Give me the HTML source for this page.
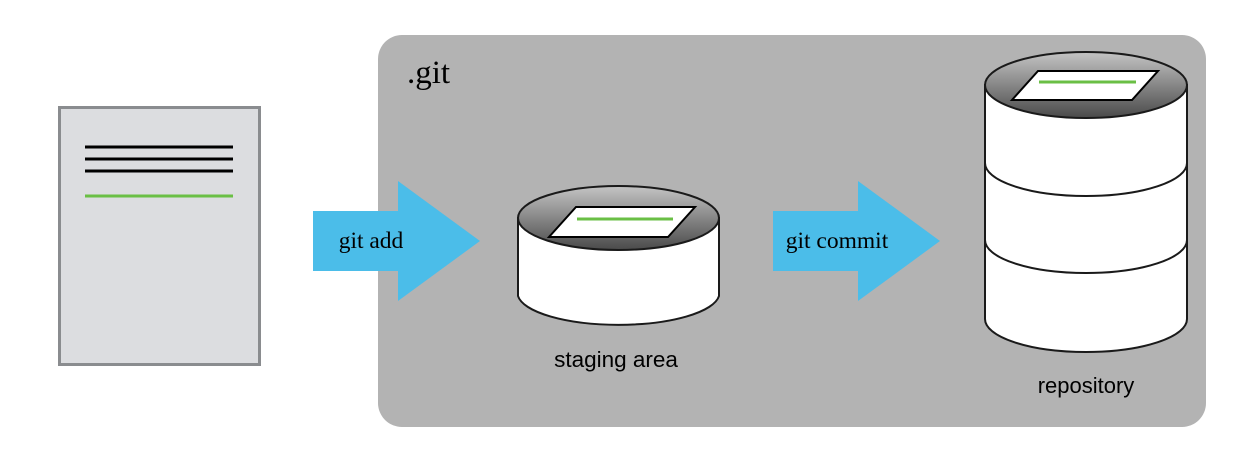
<!DOCTYPE html>
<html><head><style>body{margin:0;background:#fff}</style></head><body>
<svg width="1258" height="470" xmlns="http://www.w3.org/2000/svg">
<defs>
<linearGradient id="g" x1="0" y1="0" x2="0" y2="1">
<stop offset="0" stop-color="#c4c4c4"/><stop offset="1" stop-color="#4a4a4a"/>
</linearGradient>
</defs>
<rect x="378" y="35" width="828" height="392" rx="24" fill="#b3b3b3"/>
<text x="407" y="83" font-family="Liberation Serif, serif" font-size="33" fill="#000">.git</text>
<rect x="59.5" y="107.5" width="200" height="257" fill="#dcdde0" stroke="#8a8c8f" stroke-width="3"/>
<g stroke="#000" stroke-width="3"><line x1="85" y1="147" x2="233" y2="147"/><line x1="85" y1="159" x2="233" y2="159"/><line x1="85" y1="171" x2="233" y2="171"/></g>
<line x1="85" y1="196" x2="233" y2="196" stroke="#6abf45" stroke-width="3"/>
<polygon points="313,211 398,211 398,181 480,241 398,301 398,271 313,271" fill="#4bbde9"/>
<text x="371" y="248" text-anchor="middle" font-family="Liberation Serif, serif" font-size="23.5">git add</text>
<polygon points="773,211 858,211 858,181 940,241 858,301 858,271 773,271" fill="#4bbde9"/>
<text x="837" y="248" text-anchor="middle" font-family="Liberation Serif, serif" font-size="23.5">git commit</text>
<!-- staging -->
<g stroke="#1a1a1a" stroke-width="2">
<path d="M518,218 L518,296 A101,32 0 0 0 719,296 L719,218 Z" fill="#fff"/>
<ellipse cx="618.5" cy="218" rx="100.5" ry="32" fill="url(#g)"/>
</g>
<polygon points="576,207 695,207 668,237 549,237" fill="#fff" stroke="#000" stroke-width="2"/>
<line x1="577" y1="219" x2="673" y2="219" stroke="#6abf45" stroke-width="3"/>
<text x="616" y="367" text-anchor="middle" font-family="Liberation Sans, sans-serif" font-size="22.5">staging area</text>
<!-- repo -->
<g stroke="#1a1a1a" stroke-width="2" fill="#fff">
<path d="M985,85 L985,319 A101,33 0 0 0 1187,319 L1187,85 Z"/>
<path d="M985,163 A101,33 0 0 0 1187,163" fill="none"/>
<path d="M985,240 A101,33 0 0 0 1187,240" fill="none"/>
<ellipse cx="1086" cy="85" rx="101" ry="33" fill="url(#g)"/>
</g>
<polygon points="1038,71 1158,71 1132,100 1012,100" fill="#fff" stroke="#000" stroke-width="2"/>
<line x1="1039" y1="82" x2="1136" y2="82" stroke="#6abf45" stroke-width="3"/>
<text x="1086" y="393" text-anchor="middle" font-family="Liberation Sans, sans-serif" font-size="22">repository</text>
</svg>
</body></html>
